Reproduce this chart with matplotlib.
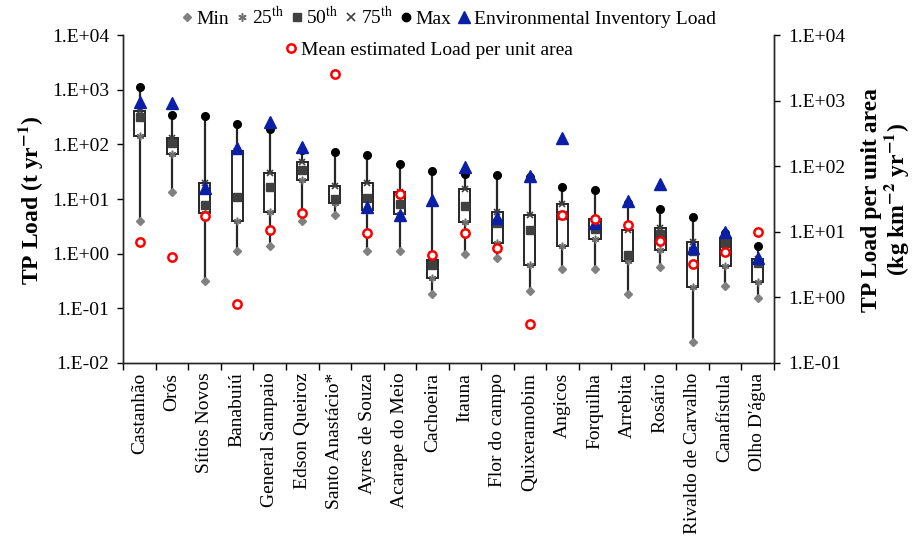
import matplotlib
matplotlib.use("Agg")
import matplotlib.pyplot as plt
from matplotlib.lines import Line2D
from matplotlib.ticker import FixedLocator, FuncFormatter, NullLocator
import numpy as np

plt.rcParams['font.family'] = ['Liberation Serif', 'DejaVu Serif']
plt.rcParams['mathtext.fontset'] = 'stix'

# reservoirs and TP loads (t/yr)
reservoirs = ["Castanhão", "Orós", "Sítios Novos", "Banabuiú", "General Sampaio",
              "Edson Queiroz", "Santo Anastácio*", "Ayres de Souza", "Acarape do Meio",
              "Cachoeira", "Itauna", "Flor do campo", "Quixeramobim", "Angicos",
              "Forquilha", "Arrebita", "Rosário", "Rivaldo de Carvalho",
              "Canafístula", "Olho D'água"]

load_min = [4.0, 13.3, 0.31, 1.12, 1.38, 4.0, 5.0, 1.12, 1.12, 0.18,
            1.0, 0.85, 0.21, 0.52, 0.52, 0.18, 0.56, 0.024, 0.26, 0.155]
load_p25 = [142, 66, 5.6, 4.0, 5.9, 22, 8.4, 6.3, 5.3, 0.36,
            3.8, 1.6, 0.63, 1.38, 1.84, 0.74, 1.17, 0.25, 0.6, 0.30]
load_p50 = [315, 105, 7.8, 11, 16.4, 34, 10, 10.6, 8.0, 0.63,
            7.4, 3.6, 2.7, 5.1, 2.8, 0.95, 2.3, 1.1, 1.56, 0.68]
load_p75 = [400, 129, 20, 74, 29.5, 47, 17.6, 20, 13.3, 0.77,
            15, 5.9, 5.0, 8.1, 4.3, 2.7, 3.0, 1.66, 1.9, 0.8]
load_max = [1135, 348, 333, 234, 190, 80, 71, 64, 44, 32,
            29, 27, 25, 16.4, 14.7, 8.5, 6.5, 4.7, 2.4, 1.38]
env_load = [600, 563, 16, 85, 260, 91, np.nan, 7.2, 5.1, 9.5,
            38, 4.5, 26, 129, 3.7, 9.3, 19, 1.26, 2.5, 0.83]
# mean estimated load per unit area (kg km-2 yr-1), right axis
mean_area = [6.9, 4.1, 17.7, 0.79, 10.7, 19.5, 2570, 9.6, 38, 4.4,
             9.6, 5.7, 0.39, 17.8, 15.8, 12.9, 7.2, 3.2, 4.9, 9.8]

x = np.arange(len(reservoirs))
dark = '#262626'

fig = plt.figure(figsize=(9.17, 5.49), dpi=100)
ax = fig.add_axes([0.1345, 0.3388, 0.7095, 0.5974])

# whiskers min -> max, then the box
ax.vlines(x, load_min, load_max, color=dark, lw=1.6, zorder=1)
p25 = np.array(load_p25)
p75 = np.array(load_p75)
ax.bar(x, p75 - p25, bottom=p25, width=0.34, color='white', edgecolor=dark,
       linewidth=1.4, zorder=2)

ax.plot(x, load_min, 'D', color='#808080', ms=4, ls='none', zorder=3)
ax.plot(x, load_p25, marker=(6, 2, 0), color='#707070', ms=5.5, mew=1.1, ls='none', zorder=3)
ax.plot(x, load_p75, 'x', color='#404040', ms=5, mew=1.2, ls='none', zorder=3)
ax.plot(x, load_p50, 's', color='#404040', ms=5.5, ls='none', zorder=4)
ax.plot(x, load_max, 'o', color='black', ms=5.5, ls='none', zorder=4)
ax.plot(x, env_load, '^', color='#0A1FA5', ms=8, ls='none', zorder=5)

ax.set_yscale('log')
ax.set_ylim(0.01, 1e4)
ax.set_xlim(-0.5, len(reservoirs) - 0.5)

fmt = FuncFormatter(lambda v, p: "1.E{:+03d}".format(int(round(np.log10(v)))))
ax.yaxis.set_major_locator(FixedLocator(10.0 ** np.arange(-2, 5)))
ax.yaxis.set_minor_locator(NullLocator())
ax.yaxis.set_major_formatter(fmt)
ax.tick_params(axis='y', labelsize=14, length=4, width=1, direction='out', pad=6)

ax.set_xticks(x)
ax.set_xticklabels(reservoirs, rotation=90, fontsize=14)
ax.set_xticks(np.arange(-0.5, len(reservoirs), 1), minor=True)
ax.tick_params(axis='x', which='major', length=0, pad=7)
ax.tick_params(axis='x', which='minor', length=5, width=1, direction='out')

ax2 = ax.twinx()
ax2.plot(x, mean_area, 'o', mfc='white', mec='#FF0000', mew=1.8, ms=6, ls='none', zorder=6)
ax2.set_yscale('log')
ax2.set_ylim(0.1, 1e4)
ax2.yaxis.set_major_locator(FixedLocator(10.0 ** np.arange(-1, 5)))
ax2.yaxis.set_minor_locator(NullLocator())
ax2.yaxis.set_major_formatter(fmt)
ax2.tick_params(axis='y', labelsize=14, length=4, width=1, direction='out', pad=6)

for a in (ax, ax2):
    a.spines['top'].set_visible(False)
    for s in ('left', 'right', 'bottom'):
        a.spines[s].set_linewidth(1.0)
        a.spines[s].set_color(dark)

fig.text(0.033, 0.636, r"TP Load (t yr$^{\mathbf{-1}}$)", rotation=90, ha='center', va='center',
         fontsize=17, fontweight='bold')
fig.text(0.966, 0.636, "TP Load per unit area\n" + r"(kg km$^{\mathbf{-2}}$ yr$^{\mathbf{-1}}$)",
         rotation=90, ha='center', va='center', fontsize=17, fontweight='bold', linespacing=1.0)

# legend, two rows
h1 = [Line2D([], [], marker='D', color='#808080', ms=4.5, ls='none'),
      Line2D([], [], marker=(6, 2, 0), color='#707070', ms=6, mew=1.1, ls='none'),
      Line2D([], [], marker='s', color='#404040', ms=6, ls='none'),
      Line2D([], [], marker='x', color='#404040', ms=5.5, mew=1.2, ls='none'),
      Line2D([], [], marker='o', color='black', ms=6, ls='none'),
      Line2D([], [], marker='^', color='#0A1FA5', ms=8.5, ls='none')]
l1 = ["Min", r"25$^{\mathrm{th}}$", r"50$^{\mathrm{th}}$", r"75$^{\mathrm{th}}$", "Max",
      "Environmental Inventory Load"]
fig.legend(h1, l1, loc='center', bbox_to_anchor=(0.488, 0.969), ncol=6, frameon=False,
           fontsize=14, handletextpad=0.1, columnspacing=0.25, handlelength=0.8, borderaxespad=0)

h2 = [Line2D([], [], marker='o', mfc='white', mec='#FF0000', mew=1.8, ms=6, ls='none')]
fig.legend(h2, ["Mean estimated Load per unit area"], loc='center', bbox_to_anchor=(0.467, 0.909),
           frameon=False, fontsize=14, handletextpad=0.1, handlelength=0.8, borderaxespad=0)

fig.savefig("out.png", dpi=100)
